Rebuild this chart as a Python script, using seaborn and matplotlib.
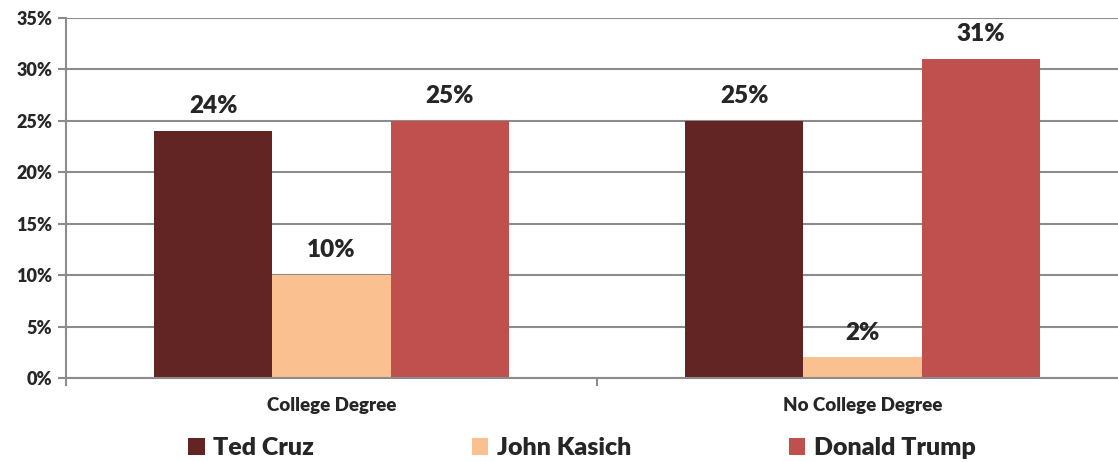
import matplotlib
matplotlib.use("Agg")
import matplotlib.pyplot as plt
from matplotlib.ticker import FixedLocator, PercentFormatter
import seaborn as sns
import pandas as pd

# Vote share by education level
categories = ["College Degree", "No College Degree"]
candidates = ["Ted Cruz", "John Kasich", "Donald Trump"]
cruz = [24, 25]
kasich = [10, 2]
trump = [25, 31]
colors = ["#632523", "#FAC090", "#C0504D"]

rows = []
for cand, vals in zip(candidates, [cruz, kasich, trump]):
    for cat, v in zip(categories, vals):
        rows.append({"Education": cat, "Candidate": cand, "Share": v})
df = pd.DataFrame(rows)

sns.set_theme(style="white")
plt.rcParams["font.family"] = ["Lato", "DejaVu Sans"]
WEIGHT = "heavy"
plt.rcParams["font.weight"] = WEIGHT

fig = plt.figure(figsize=(11.18, 4.62), dpi=100)
ax = fig.add_axes([66 / 1118, 84 / 462, 1062 / 1118, 360 / 462])

sns.barplot(data=df, x="Education", y="Share", hue="Candidate",
            hue_order=candidates, order=categories, palette=colors,
            width=0.667, saturation=1, linewidth=0, ax=ax, legend=True)

for cont in ax.containers:
    ax.bar_label(cont, fmt="%d%%", padding=10, fontsize=17.5, fontweight=WEIGHT)

grid_col = "#8c8c8c"
ax.set_ylim(0, 35)
ax.set_xlim(-0.5, 1.5)
ax.yaxis.set_major_locator(FixedLocator(range(0, 36, 5)))
ax.yaxis.set_major_formatter(PercentFormatter(decimals=0))
ax.yaxis.grid(True, color=grid_col, lw=1.5)
ax.set_axisbelow(True)

ax.tick_params(axis="y", length=6, width=1.5, color=grid_col, direction="out",
               labelsize=13, pad=4, left=True)
ax.tick_params(axis="x", which="major", length=0, labelsize=13.5, pad=14)
ax.xaxis.set_minor_locator(FixedLocator([-0.5, 0.5, 1.5]))
ax.tick_params(axis="x", which="minor", length=6, width=1.5, color=grid_col,
               direction="out", bottom=True)
for lab in ax.get_yticklabels() + ax.get_xticklabels():
    lab.set_fontweight(WEIGHT)

ax.set_xlabel("")
ax.set_ylabel("")
for side in ["top", "right"]:
    ax.spines[side].set_visible(False)
for side in ["left", "bottom"]:
    ax.spines[side].set_color(grid_col)
    ax.spines[side].set_linewidth(1.5)

ax.legend(loc="center", bbox_to_anchor=(582 / 1118, 14 / 462),
          bbox_transform=fig.transFigure, ncol=3, frameon=False,
          handlelength=0.65, handleheight=0.65, handletextpad=0.35,
          columnspacing=6.3, borderpad=0, prop={"size": 18, "weight": WEIGHT})

fig.savefig("out.png", dpi=100)
